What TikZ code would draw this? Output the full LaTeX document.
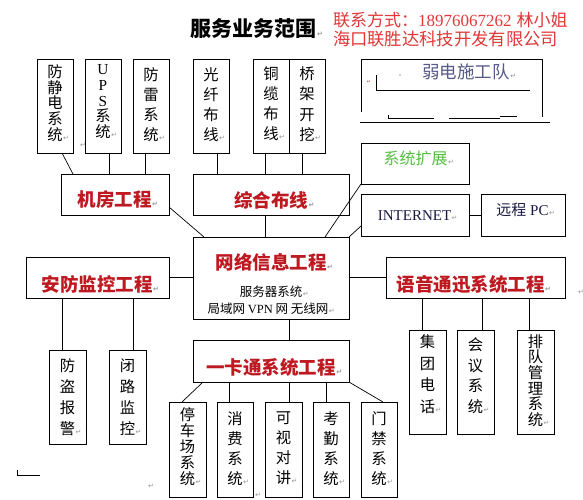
\documentclass[tikz,border=0pt]{standalone}
\usepackage{fontspec}
\setmainfont{Noto Sans CJK SC}
\newfontfamily\lat{Liberation Serif}
\newfontfamily\dv{DejaVu Sans}
\usetikzlibrary{calc}
\definecolor{redt}{RGB}{190,24,32}
\definecolor{redc}{RGB}{225,55,55}
\definecolor{greent}{RGB}{85,190,65}
\definecolor{weakc}{RGB}{85,90,135}
\definecolor{navyt}{RGB}{25,25,70}
\definecolor{retg}{RGB}{150,150,150}
\newcommand\rt{\rlap{\kern0.5pt\dv\fontsize{7}{7}\selectfont\color{retg}↵}}
\newcommand\vbx[8]{%
  \node[bx, minimum width={#4-#2}, minimum height={#5-#3}, anchor=north west] (#1) at (#2,#3) {};
  \node[tx, align=center, font={\fontsize{15.3}{#6}\selectfont}, anchor=north] (#1t) at ({(#2+#4)/2},{#7-0.5}) {#8};
}
\newcommand\hbx[5]{%
  \node[bx, minimum width={#4-#2}, minimum height={#5-#3}, anchor=north west] (#1) at (#2,#3) {};
}
\tikzset{
  bx/.style={draw=black, line width=0.9pt, inner sep=0pt, outer sep=0pt, fill=white},
  tx/.style={inner sep=0pt, outer sep=0pt},
  hd/.style={tx, font=\fontsize{18.5}{18.5}\selectfont\bfseries, text=redt},
  cn/.style={draw=black, line width=0.7pt},
  deco/.style={draw=black, line width=0.8pt},
  mk/.style={tx, font=\dv\fontsize{7}{7}\selectfont, text=retg}
}
\begin{document}
\begin{tikzpicture}[x=1pt,y=-1pt]
\useasboundingbox (0,0) rectangle (583,499);
\fill[white] (0,0) rectangle (583,499);

% title and contact
\node[tx, font=\fontsize{21}{21}\selectfont\bfseries] (title) at (253.5,28.5) {服务业务范围\rt};
\node[tx, anchor=west, text=redc, font=\fontsize{17}{17}\selectfont] (contact1) at (333,20) {联系方式：{\lat 18976067262}\hspace{5pt}林小姐};
\node[tx, anchor=west, text=redc, font=\fontsize{17.3}{17.3}\selectfont] (contact2) at (333,39) {海口联胜达科技开发有限公司};

% weak current team decoration
\draw[deco] (361,112) -- (361,59) -- (542,59) -- (542,117);
\draw[deco] (360,122) -- (550,122);
\draw[deco] (376,75) -- (376,90) -- (530,90);
\draw[deco] (388,115) -- (388,118) -- (434,118);
\draw[deco] (449,118) -- (500,118);
\draw[deco] (500,116.5) -- (517,116.5);
\fill[gray!70] (400,75) circle (0.8);
\node[tx, text=weakc, font=\fontsize{17.5}{17.5}\selectfont] (weak) at (466,72) {弱电施工队\rt};
\node[tx, text=redc, font=\dv\fontsize{5}{5}\selectfont] (wm) at (369,82) {↵};

% top vertical boxes
\vbx{jfdj}{37}{59}{73}{153}{15.75}{65}{防\\静\\电\\系\\统\rt}
\vbx{ups}{85}{59}{121}{153}{15.75}{65}{{\lat U}\\{\lat P}\\{\lat S}\\系\\统\rt}
\vbx{fl}{133}{59}{169}{153}{20}{68}{防\\雷\\系\\统\rt}
\vbx{gx}{193}{59}{229}{153}{20}{68}{光\\纤\\布\\线\rt}
\vbx{tl}{253}{59}{289}{153}{20}{67}{铜\\缆\\布\\线\rt}
\vbx{qj}{289}{59}{325}{153}{20.5}{67}{桥\\架\\开\\挖\rt}

% horizontal boxes
\hbx{jf}{61}{174}{169}{215}
\node[hd] (jft) at (114.5,200) {机房工程\rt};
\hbx{zh}{193}{174}{349}{215}
\node[hd] (zht) at (271,200) {综合布线\rt};
\hbx{kz}{361}{143}{469}{184}
\node[tx, text=greent, font=\fontsize{16}{16}\selectfont] (kzt) at (415.5,158) {系统扩展\rt};
\hbx{inet}{361}{194}{469}{236}
\node[tx, text=navyt, font=\lat\fontsize{15}{15}\selectfont] (inett) at (414.5,216) {INTERNET\rt};
\hbx{pc}{481}{194}{565}{236}
\node[tx, text=navyt, font=\fontsize{15}{15}\selectfont] (pct) at (522.5,210) {远程{\lat\ PC}\rt};
\hbx{wl}{193}{237}{349}{319}
\node[hd] (wlt) at (271,262) {网络信息工程\rt};
\node[tx, font=\fontsize{12.5}{12.5}\selectfont] (wls) at (271,292) {服务器系统\rt};
\node[tx, font=\fontsize{12.5}{12.5}\selectfont] (wln) at (268,309) {局域网 {\lat VPN} 网 无线网\rt};
\hbx{af}{26}{257}{169}{298}
\node[hd] (aft) at (97,284) {安防监控工程\rt};
\hbx{yy}{386}{257}{565}{298}
\node[hd] (yyt) at (470.5,284) {语音通迅系统工程\rt};
\hbx{ykt}{193}{340}{349}{382}
\node[hd] (yktt) at (271,367) {一卡通系统工程\rt};

% lower vertical boxes
\vbx{fd}{49}{350}{86}{444}{21}{359}{防\\盗\\报\\警\rt}
\vbx{bl}{109}{350}{146}{444}{21}{359}{闭\\路\\监\\控\rt}
\vbx{jt}{409}{330}{446}{434}{21.7}{335}{集\\团\\电\\话\rt}
\vbx{hy}{457}{330}{494}{434}{20.7}{338}{会\\议\\系\\统\rt}
\vbx{pd}{517}{330}{554}{434}{15.6}{335}{排\\队\\管\\理\\系\\统\rt}
\vbx{tc}{169}{402}{206}{497}{16}{408}{停\\车\\场\\系\\统\rt}
\vbx{xf}{217}{402}{253}{497}{20}{412}{消\\费\\系\\统\rt}
\vbx{ks}{265}{402}{302}{497}{20}{412}{可\\视\\对\\讲\rt}
\vbx{kq}{313}{402}{349}{497}{20}{412}{考\\勤\\系\\统\rt}
\vbx{mj}{361}{402}{397}{497}{20}{412}{门\\禁\\系\\统\rt}

% connectors
\draw[cn] (jfdj.south -| 62,0) -- (jf.north -| 73,0);
\draw[cn] (ups.south -| 109,0) -- (jf.north -| 109,0);
\draw[cn] (fl.south -| 145,0) -- (jf.north -| 145,0);
\draw[cn] (gx.south -| 217,0) -- (zh.north -| 217,0);
\draw[cn] (tl.south -| 265,0) -- (zh.north -| 265,0);
\draw[cn] (qj.south -| 302,0) -- (zh.north -| 302,0);
\draw[cn] ($(jf.south east)+(0,-8)$) -- (wl.north -| 204,0);
\draw[cn] (zh.south -| 265,0) -- (wl.north -| 265,0);
\draw[cn] (wl.north -| 325,0) -- (kz.south west);
\draw[cn] (wl.north east) -- (inet.west |- 0,226);
\draw[cn] (inet.east) -- (pc.west);
\draw[cn] (af.east) -- (wl.west |- af.east);
\draw[cn] (wl.east |- yy.west) -- (yy.west);
\draw[cn] (af.south -| 62,0) -- (fd.north -| 62,0);
\draw[cn] (af.south -| 133,0) -- (bl.north -| 133,0);
\draw[cn] (yy.south -| 422,0) -- (jt.north -| 422,0);
\draw[cn] (yy.south -| 482,0) -- (hy.north -| 482,0);
\draw[cn] (yy.south -| 529,0) -- (pd.north -| 529,0);
\draw[cn] (wl.south -| 289,0) -- (ykt.north -| 289,0);
\draw[cn] (ykt.south -| 203,0) -- (tc.north -| 182,0);
\draw[cn] (ykt.south -| 229,0) -- (xf.north -| 229,0);
\draw[cn] (ykt.south -| 289,0) -- (ks.north -| 289,0);
\draw[cn] (ykt.south -| 326,0) -- (kq.north -| 326,0);
\draw[cn] (ykt.south east) -- (mj.north -| 383,0);

% stray marks
\draw[deco] (17,470) -- (17,475) -- (40,475);
\node[mk] (m1) at (83,145) {↵};
\node[mk] (m2) at (581,292) {↵};
\node[mk] (m3) at (151,486) {↵};
\node[mk] (m4) at (258,495) {↵};
\end{tikzpicture}
\end{document}
